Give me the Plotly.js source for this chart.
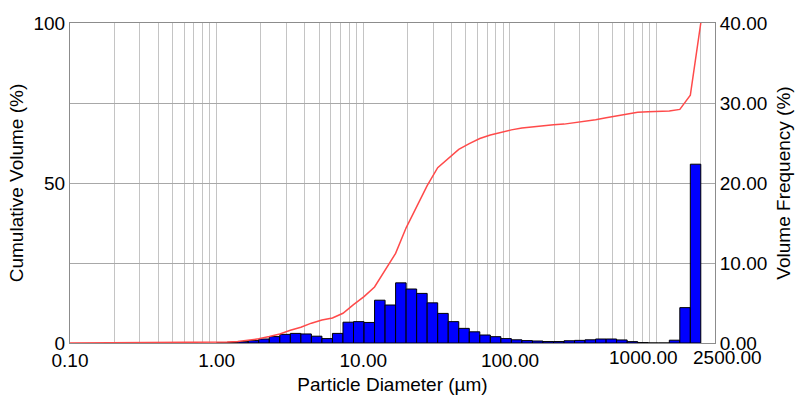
<!DOCTYPE html>
<html>
<head>
<meta charset="utf-8">
<script src="https://cdn.plot.ly/plotly-3.0.1.min.js"></script>
<style>html,body{margin:0;padding:0;background:#fff;}#chart{width:796px;height:400px;}</style>
</head>
<body>
<div id="chart"></div>
<script>
// Bin edges (µm)
const binEdges = [1.000, 1.180, 1.392, 1.642, 1.937, 2.285, 2.696, 3.180, 3.752, 4.425, 5.221, 6.159, 7.265, 8.571, 10.11, 11.93, 14.07, 16.60, 19.58, 23.10, 27.25, 32.15, 37.93, 44.74, 52.79, 62.27, 73.46, 86.66, 102.2, 120.6, 142.3, 167.8, 198.0, 233.6, 275.6, 325.1, 383.5, 452.4, 533.7, 629.6, 742.8, 876.2, 1034, 1220, 1439, 1697, 2000];
// Volume frequency (%) per bin
const volumeFrequency = [0.03, 0.08, 0.17, 0.30, 0.50, 0.80, 1.08, 1.20, 1.13, 0.85, 0.55, 1.20, 2.60, 2.67, 2.57, 5.35, 4.75, 7.52, 6.75, 6.20, 5.02, 3.70, 2.67, 1.83, 1.40, 1.00, 0.79, 0.55, 0.40, 0.30, 0.25, 0.18, 0.18, 0.28, 0.33, 0.40, 0.50, 0.50, 0.38, 0.17, 0.05, 0.00, 0.00, 0.35, 4.42, 22.35];
// Cumulative volume (%) curve
const cumDiameter = [0.1, 1.000, 1.180, 1.392, 1.642, 1.937, 2.285, 2.696, 3.180, 3.752, 4.425, 5.221, 6.159, 7.265, 8.571, 10.11, 11.93, 14.07, 16.60, 19.58, 23.10, 27.25, 32.15, 37.93, 44.74, 52.79, 62.27, 73.46, 86.66, 102.2, 120.6, 142.3, 167.8, 198.0, 233.6, 275.6, 325.1, 383.5, 452.4, 533.7, 629.6, 742.8, 876.2, 1034, 1220, 1439, 1697, 2000];
const cumVolume = [0, 0.1, 0.3, 0.5, 0.9, 1.3, 2.0, 2.8, 4.0, 4.9, 6.2, 7.2, 7.8, 9.3, 12.0, 14.5, 17.5, 22.7, 28.0, 36.0, 42.4, 49.2, 54.8, 57.8, 60.5, 62.3, 63.9, 65.0, 65.9, 66.6, 67.2, 67.6, 67.9, 68.2, 68.4, 68.8, 69.3, 69.8, 70.4, 71.0, 71.6, 72.1, 72.3, 72.4, 72.5, 73.0, 77.4, 100];
// Axis ticks
const xGridVals = [0.1,0.2,0.3,0.4,0.5,0.6,0.7,0.8,0.9,1,2,3,4,5,6,7,8,9,10,20,30,40,50,60,70,80,90,100,200,300,400,500,600,700,800,900,1000,2000,2500];
const xLabels = {0.1:'0.10', 1:'1.00', 10:'10.00', 100:'100.00'};
const xEndLabels = [{v: 1000, t: '1000.00', shift: -13}, {v: 2500, t: '2500.00', shift: 12}];
const leftTicks = [0, 25, 50, 75, 100];
const leftLabels = ['0', '', '50', '', '100'];
const rightTicks = [0, 10, 20, 30, 40];

const xText = xGridVals.map(v => xLabels[v] || '');

const lefts = binEdges.slice(0, -1);
const widths = lefts.map((v, i) => binEdges[i + 1] - v);

const bars = {
  type: 'bar', x: lefts, y: volumeFrequency, width: widths, offset: 0,
  marker: {color: '#0000ff', line: {color: '#000000', width: 1}},
  yaxis: 'y', xaxis: 'x', hoverinfo: 'x+y', showlegend: false
};
const line = {
  type: 'scatter', mode: 'lines', x: cumDiameter, y: cumVolume,
  line: {color: '#ff4a4a', width: 1.5}, yaxis: 'y2', xaxis: 'x', showlegend: false
};

const fam = 'Liberation Sans, Arial, sans-serif';
const font = {family: fam, size: 19, color: '#000'};
const nb = '\u00a0';
const layout = {
  width: 796, height: 400,
  margin: {l: 70, r: 81, t: 23, b: 57},
  paper_bgcolor: '#fff', plot_bgcolor: '#fff',
  font: font, bargap: 0, showlegend: false,
  xaxis: {
    type: 'log', range: [-1, Math.log10(2500)],
    tickmode: 'array', tickvals: xGridVals, ticktext: xText, tickangle: 0,
    showgrid: true, gridcolor: '#c4c4c4', gridwidth: 1,
    showline: true, linecolor: '#8c8c8c', linewidth: 1, mirror: true,
    ticks: '', zeroline: false, tickfont: font,
    title: {text: 'Particle Diameter (µm)' + nb.repeat(4), font: font, standoff: 7}
  },
  yaxis: {
    side: 'right', range: [0, 40], tickmode: 'array', tickvals: rightTicks,
    tickformat: '.2f', showgrid: false, zeroline: false,
    showline: true, linecolor: '#8c8c8c', linewidth: 1,
    ticks: '', tickfont: font,
    title: {text: 'Volume Frequency (%)' + nb.repeat(4), font: font, standoff: 10}
  },
  yaxis2: {
    side: 'left', overlaying: 'y', range: [0, 100], tickmode: 'array',
    tickvals: leftTicks, ticktext: leftLabels,
    showgrid: true, gridcolor: '#a8a8a8', gridwidth: 1, zeroline: false,
    showline: true, linecolor: '#8c8c8c', linewidth: 1,
    ticks: '', tickfont: font,
    title: {text: 'Cumulative Volume (%)', font: font, standoff: 4}
  },
  annotations: xEndLabels.map(d => ({
    x: Math.log10(d.v), xref: 'x', y: 0, yref: 'paper', yanchor: 'top',
    xanchor: 'center', xshift: d.shift, yshift: -2, showarrow: false,
    text: d.t, font: font
  }))
};

Plotly.newPlot('chart', [bars, line], layout, {staticPlot: true, displayModeBar: false});
</script>
</body>
</html>
